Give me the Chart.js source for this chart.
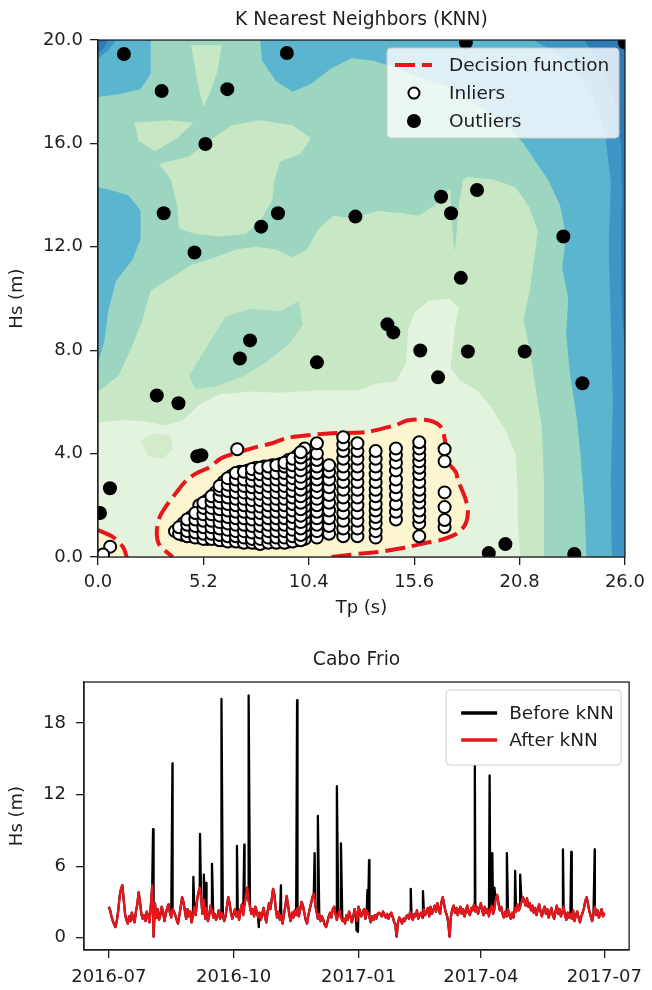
<!DOCTYPE html>
<html>
<head>
<meta charset="utf-8">
<title>KNN outlier detection - Cabo Frio</title>
<script src="https://cdn.jsdelivr.net/npm/chart.js@4/dist/chart.umd.min.js"></script>
<style>
  html, body { margin: 0; padding: 0; background: #ffffff; width: 652px; height: 990px; overflow: hidden; }
  canvas { position: absolute; left: 0; display: block; }
  #knn { top: 0; }
  #ts { top: 625px; }
</style>
</head>
<body>
<canvas id="knn" width="652" height="625"></canvas>
<canvas id="ts" width="652" height="365"></canvas>
<script>
// ================= DATA : top chart (Tp, Hs) =================
const tpTicks = [0, 5.2, 10.4, 15.6, 20.8, 26.0];
const hsTicks = [0, 4, 8, 12, 16, 20];
const knnLegendLabels = ['Decision function', 'Inliers', 'Outliers'];

const outlierTp = [1.28, 9.32, 18.15, 26.0, 3.14, 6.38, 5.3, 3.24, 4.76, 8.05, 8.88, 12.7, 16.93, 17.42, 18.7, 22.96, 17.9, 14.28, 14.57, 10.8, 7.5, 7.0, 15.9, 18.25, 21.05, 16.78, 23.9, 2.9, 3.97, 4.9, 5.1, 0.59, 0.1, 19.28, 20.1, 23.5];
const outlierHs = [19.46, 19.5, 19.9, 19.9, 18.03, 18.1, 15.98, 13.3, 11.78, 12.78, 13.3, 13.17, 13.94, 13.3, 14.2, 12.4, 10.8, 9.0, 8.69, 7.53, 8.38, 7.68, 7.99, 7.95, 7.95, 6.95, 6.72, 6.25, 5.95, 3.9, 3.94, 2.66, 1.7, 0.15, 0.5, 0.12];

// inliers grouped by peak-period column
const inlierTp = [3.8, 4.2, 4.6, 5.0, 5.4, 5.8, 6.2, 6.6, 7.0, 7.4, 7.8, 8.2, 8.6, 9.0, 9.4, 9.8, 10.2, 10.8, 11.4, 12.1, 12.8, 13.7, 14.7, 15.85, 17.1];
const inlierHs = [
  [1.0],
  [0.85, 1.1, 1.3],
  [0.8, 1.05, 1.3, 1.55],
  [0.75, 1.0, 1.25, 1.5, 1.75, 2.0],
  [0.7, 0.95, 1.2, 1.45, 1.7, 1.95, 2.2],
  [0.7, 0.95, 1.2, 1.45, 1.7, 1.95, 2.2, 2.5],
  [0.65, 0.9, 1.15, 1.4, 1.65, 1.9, 2.15, 2.4, 2.65, 2.9],
  [0.65, 0.9, 1.15, 1.4, 1.65, 1.9, 2.15, 2.4, 2.65, 2.9, 3.15],
  [0.6, 0.85, 1.1, 1.35, 1.6, 1.85, 2.1, 2.35, 2.6, 2.85, 3.1, 3.3],
  [0.6, 0.85, 1.1, 1.35, 1.6, 1.85, 2.1, 2.35, 2.6, 2.85, 3.1, 3.35],
  [0.55, 0.8, 1.05, 1.3, 1.55, 1.8, 2.05, 2.3, 2.55, 2.8, 3.05, 3.3, 3.45],
  [0.6, 0.85, 1.1, 1.35, 1.6, 1.85, 2.1, 2.35, 2.6, 2.85, 3.1, 3.35, 3.5],
  [0.6, 0.85, 1.1, 1.35, 1.6, 1.85, 2.1, 2.35, 2.6, 2.85, 3.1, 3.35, 3.55],
  [0.6, 0.85, 1.1, 1.35, 1.6, 1.85, 2.1, 2.35, 2.6, 2.85, 3.1, 3.35, 3.6],
  [0.6, 0.85, 1.1, 1.35, 1.6, 1.85, 2.1, 2.35, 2.6, 2.85, 3.1, 3.35, 3.6, 3.75],
  [0.65, 0.9, 1.15, 1.4, 1.65, 1.9, 2.15, 2.4, 2.65, 2.9, 3.15, 3.4, 3.65, 3.9],
  [0.7, 0.95, 1.2, 1.45, 1.7, 1.95, 2.2, 2.45, 2.7, 2.95, 3.2, 3.45, 3.7, 3.95, 4.2],
  [0.75, 1.0, 1.25, 1.5, 1.75, 2.0, 2.25, 2.5, 2.75, 3.0, 3.25, 3.5, 3.75, 4.0, 4.4],
  [0.9, 1.2, 1.5, 1.8, 2.1, 2.4, 2.7, 3.0, 3.3, 3.55],
  [0.8, 1.1, 1.4, 1.7, 2.0, 2.3, 2.6, 2.9, 3.2, 3.5, 3.8, 4.1, 4.35, 4.63],
  [0.8, 1.1, 1.4, 1.7, 2.0, 2.3, 2.6, 2.9, 3.2, 3.5, 3.8, 4.1, 4.4],
  [0.75, 1.0, 1.3, 1.55, 1.8, 2.05, 2.35, 2.6, 2.9, 3.2, 3.5, 3.8, 4.1],
  [1.45, 1.75, 2.05, 2.4, 2.7, 3.0, 3.35, 3.65, 3.95, 4.2],
  [0.8, 1.3, 1.55, 1.8, 2.1, 2.35, 2.6, 2.9, 3.2, 3.45, 3.7, 3.95, 4.2, 4.44],
  [1.16, 1.43, 1.93, 2.5, 3.7, 4.17]
];
// second, interleaved set of records in the dense short-period cluster
const inlierTpB = [4.0, 4.4, 4.8, 5.2, 5.6, 6.0, 6.4, 6.8, 7.2, 7.6, 8.0, 8.4, 8.8, 9.2, 9.6, 10.0];
const inlierHsB = [
  [0.9, 1.15],
  [0.8, 1.0, 1.25, 1.45],
  [0.75, 0.95, 1.2, 1.45, 1.7],
  [0.7, 0.9, 1.15, 1.4, 1.65, 1.9, 2.1],
  [0.7, 0.9, 1.15, 1.4, 1.65, 1.9, 2.15, 2.35],
  [0.65, 0.85, 1.1, 1.35, 1.6, 1.85, 2.1, 2.35, 2.6, 2.75],
  [0.6, 0.8, 1.05, 1.3, 1.55, 1.8, 2.05, 2.3, 2.55, 2.8, 3.05],
  [0.6, 0.8, 1.0, 1.25, 1.5, 1.75, 2.0, 2.25, 2.5, 2.75, 3.0, 3.25],
  [0.55, 0.75, 1.0, 1.25, 1.5, 1.75, 2.0, 2.25, 2.5, 2.75, 3.0, 3.3],
  [0.55, 0.7, 0.95, 1.2, 1.45, 1.7, 1.95, 2.2, 2.45, 2.7, 2.95, 3.2, 3.4],
  [0.5, 0.7, 0.95, 1.2, 1.45, 1.7, 1.95, 2.2, 2.45, 2.7, 2.95, 3.2, 3.45],
  [0.55, 0.75, 1.0, 1.25, 1.5, 1.75, 2.0, 2.25, 2.5, 2.75, 3.0, 3.25, 3.5],
  [0.55, 0.75, 1.0, 1.25, 1.5, 1.75, 2.0, 2.25, 2.5, 2.75, 3.0, 3.25, 3.55],
  [0.55, 0.75, 1.0, 1.25, 1.5, 1.75, 2.0, 2.25, 2.5, 2.75, 3.0, 3.25, 3.5, 3.65],
  [0.6, 0.8, 1.05, 1.3, 1.55, 1.8, 2.05, 2.3, 2.55, 2.8, 3.05, 3.3, 3.55, 3.8],
  [0.65, 0.85, 1.1, 1.35, 1.6, 1.85, 2.1, 2.35, 2.6, 2.85, 3.1, 3.35, 3.6, 3.85, 4.05]
];
const extraInlierTp = [0.6, 0.25, 6.87];
const extraInlierHs = [0.4, 0.1, 4.17];

// decision function (red dashed contour), Tp / Hs
const decisionTp = [11.53, 12.37, 13.2, 13.84, 14.47, 15.31, 16.14, 16.93, 17.76, 18.15, 18.25, 18.1, 17.76, 17.66, 17.27, 17.17, 16.93, 16.29, 15.31, 14.67, 13.2, 11.53, 9.91, 9.27, 8.59, 7.8, 6.82, 6.08, 5.5, 4.86, 4.37, 3.88, 3.39, 3.04, 2.9, 3.04, 3.68];
const decisionHs = [0, 0.08, 0.15, 0.19, 0.27, 0.39, 0.54, 0.66, 0.93, 1.31, 1.81, 2.32, 2.97, 3.28, 3.67, 4.25, 5.02, 5.29, 5.29, 5.1, 4.83, 4.79, 4.67, 4.59, 4.4, 4.25, 4.02, 3.82, 3.47, 3.24, 2.97, 2.51, 2.0, 1.54, 0.93, 0.46, 0];
const decisionCornerTp = [0, 0.74, 1.23, 1.42];
const decisionCornerHs = [1.04, 0.77, 0.39, 0];

// filled contour levels of the KNN score, [Tp, Hs] vertices
const contourL0 = [[0,0],[26,0],[26,20],[0,20]];
const contourL1 = [[0,0],[26,0],[26,8],[25.85,9.5],[25.8,12],[25.85,14],[25.8,16],[25.6,17.3],[25.2,18.3],[24.6,19.3],[24.0,20],[0.5,20],[0.3,19.7],[0,19.5]];
const contourL2 = [[0,0],[25.35,0],[25.3,3],[25.4,6],[25.3,9],[25.2,12],[25.3,14.5],[25.0,16.5],[24.5,17.6],[23.8,18.6],[22.8,19.4],[21.5,20],[0.9,20],[0.5,19.6],[0,19.3]];
const contourL3 = [[2.6,20],[8.0,20],[8.1,19.2],[8.8,18.4],[9.6,18.0],[10.5,18.3],[11.5,18.9],[12.5,19.3],[13.6,19.2],[14.8,18.9],[16.0,18.5],[17.2,18.2],[18.3,17.7],[19.3,17.2],[20.3,16.6],[21.0,16.0],[21.5,15.4],[22.2,14.6],[22.8,13.6],[23.1,12.4],[22.9,11.2],[23.2,10.0],[23.1,8.6],[23.3,7.0],[23.6,5.5],[23.8,4.0],[24.0,2.0],[24.1,0],[0,0],[0,7.5],[0.3,8.3],[0.5,9.5],[0.9,10.7],[1.7,11.5],[2.1,12.3],[2.1,13.4],[1.5,14.0],[0.6,14.2],[0,14.3],[0,17.8],[1.0,17.9],[2.1,18.1],[2.6,18.7]];
const contourL4 = [[0,0],[0,6.4],[1.0,7.0],[1.6,8.0],[2.2,9.2],[2.6,10.3],[3.6,10.8],[4.6,11.3],[5.8,11.6],[6.8,11.9],[7.8,12.0],[8.8,11.9],[9.6,11.6],[10.3,11.9],[10.9,12.7],[11.6,13.2],[12.6,13.1],[13.8,13.4],[15.0,13.3],[15.8,13.2],[16.6,13.6],[17.3,14.2],[18.2,14.7],[19.5,14.6],[20.6,14.3],[21.3,13.5],[21.7,12.6],[21.5,11.4],[21.3,10.3],[21.0,9.2],[21.3,8.0],[21.6,6.5],[21.9,5.0],[22.0,3.0],[22.0,0]];
const patchL4a = [[3.0,15.2],[4.5,15.5],[5.5,16.1],[6.6,16.7],[8.0,16.9],[9.6,16.7],[10.5,16.2],[10.0,15.6],[9.0,15.3],[8.7,14.6],[8.6,13.8],[8.0,13.0],[7.3,12.5],[6.0,12.4],[4.8,12.5],[4.0,12.7],[3.9,13.6],[3.6,14.6]];
const patchL4b = [[4.6,19.8],[6.1,19.8],[5.9,18.8],[5.5,17.9],[5.2,17.4],[4.9,18.4]];
const patchL4c = [[1.8,16.8],[3.5,16.9],[4.7,16.8],[3.9,16.2],[2.8,15.7],[2.0,16.1]];
const patchL3a = [[4.5,7.0],[5.5,8.3],[6.3,9.3],[7.5,9.6],[9.0,9.5],[9.9,9.9],[10.1,9.0],[9.5,8.3],[8.4,7.6],[7.2,7.0],[5.8,6.6],[4.8,6.5]];
const patchL3b = [[17.4,14.45],[18.0,14.55],[17.8,13.6],[17.7,12.6],[17.6,11.8],[17.5,12.6],[17.4,13.6]];
const contourL5 = [[0,0],[0,5.2],[1.2,5.3],[2.3,5.25],[3.3,5.1],[4.2,5.3],[5.0,5.9],[6.0,6.3],[7.5,6.4],[9.0,6.35],[10.0,6.4],[10.9,6.45],[12.9,6.45],[13.7,6.7],[14.7,6.8],[15.2,7.5],[15.3,8.8],[15.65,9.5],[16.3,9.9],[17.3,10.0],[17.8,9.65],[17.6,8.8],[17.4,7.3],[17.9,6.8],[18.7,6.45],[19.4,5.8],[20.1,4.9],[20.6,4.0],[20.7,2.7],[20.7,1.4],[20.85,0]];
const patchL4d = [[2.1,4.5],[2.8,4.8],[3.6,4.7],[3.7,4.2],[3.2,3.8],[2.5,3.9]];

// ================= DATA : bottom chart (time series) =================
// days since 2016-07-01
const dateTickDays = [0, 92, 184, 274, 365];
const dateTickLabels = ['2016-07', '2016-10', '2017-01', '2017-04', '2017-07'];
const hsTimeTicks = [0, 6, 12, 18];
const seriesLabels = ['Before kNN', 'After kNN'];

// daily Hs after kNN filtering (day 0 .. 365)
const hsAfter = [
  2.6, 2.3, 1.8, 1.4, 1.1, 0.9, 1.5, 2.3, 3.5, 4.1,
  4.4, 3.2, 2.0, 1.5, 1.2, 1.8, 1.4, 2.1, 1.6, 1.3,
  2.2, 2.8, 3.8, 3.0, 2.0, 1.6, 1.9, 1.4, 2.2, 1.8,
  1.3, 2.7, 4.4, 0.1, 2.9, 1.7, 2.4, 1.5, 1.9, 2.6,
  2.2, 1.4, 2.0, 2.5, 2.8, 2.1, 1.7, 2.4, 2.2, 1.9,
  1.5, 1.2, 1.9, 2.6, 3.4, 3.0, 2.3, 1.6, 2.4, 1.8,
  2.2, 1.3, 1.9, 2.6, 1.9, 3.1, 3.8, 4.2, 3.3, 2.0,
  3.2, 1.6, 2.5, 1.4, 1.9, 2.7, 2.2, 1.7, 2.0, 1.5,
  1.8, 2.3, 1.6, 2.1, 1.9, 1.4, 1.8, 2.6, 3.4, 2.9,
  2.1, 1.6, 2.0, 2.4, 1.8, 2.2, 1.5, 2.3, 2.8, 1.9,
  2.7, 3.6, 4.2, 3.1, 2.6, 2.0, 2.4, 1.8, 2.6, 2.2,
  1.7, 2.1, 1.5, 2.0, 2.5, 1.8, 1.3, 2.2, 2.9, 2.4,
  3.2, 4.1, 3.6, 2.4, 1.7, 2.2, 1.5, 1.9, 1.2, 2.0,
  2.6, 3.5, 2.8, 1.9, 1.4, 2.1, 1.7, 2.3, 1.9, 2.5,
  1.8, 2.4, 3.0, 2.7, 2.1, 1.5, 1.2, 1.9, 2.4, 2.9,
  3.4, 3.7, 2.8, 2.2, 1.6, 2.0, 1.4, 1.8, 1.5, 1.1,
  0.9, 1.3, 1.8, 2.1, 1.7, 2.4, 2.6, 2.0, 1.5, 1.9,
  2.3, 1.7, 1.4, 1.6, 1.2, 1.9, 1.5, 2.2, 1.8, 1.3,
  1.7, 2.4, 2.0, 1.4, 2.6, 2.2, 1.8, 2.1, 2.4, 1.6,
  2.3, 2.0, 1.7, 1.3, 1.8, 1.5, 1.9, 1.6, 2.0, 2.1,
  2.0, 1.8, 2.2, 1.9, 1.7, 2.0, 1.6, 1.9, 2.1, 1.8,
  1.4, 1.1, 0.1, 1.3, 1.7, 1.5, 1.2, 1.6, 1.4, 1.8,
  1.9, 1.6, 2.2, 1.7, 1.5, 2.0, 1.8, 2.3, 1.6, 1.9,
  2.1, 1.7, 2.4, 1.9, 2.2, 2.5, 1.8, 2.6, 2.0, 2.3,
  2.7, 2.2, 2.9, 2.4, 2.0, 3.0, 3.4, 2.8, 2.2, 1.9,
  1.3, 0.1, 1.8, 2.4, 2.7, 2.1, 2.5, 1.9, 2.3, 2.6,
  2.0, 2.4, 1.8, 2.2, 2.7, 2.1, 1.9, 2.5, 2.3, 2.8,
  2.2, 2.6, 2.0, 2.5, 2.9, 2.3, 1.9, 2.6, 2.1, 2.4,
  1.8, 2.3, 2.7, 2.0, 2.4, 3.2, 3.6, 2.9, 2.3, 2.6,
  2.0, 1.7, 2.2, 1.8, 2.4, 1.9, 1.6, 2.1, 1.7, 2.5,
  2.2, 2.8, 2.3, 2.6, 3.0, 3.4, 3.1, 2.7, 3.3, 2.6,
  2.9, 2.3, 2.7, 2.1, 2.5, 1.9, 2.4, 2.8, 2.2, 1.8,
  2.3, 2.6, 2.0, 2.4, 1.7, 2.1, 2.5, 1.9, 1.6, 2.2,
  2.7, 2.0, 2.4, 1.8, 2.2, 2.6, 1.9, 1.5, 2.1, 1.7,
  2.0, 1.6, 2.3, 1.4, 1.9, 2.2, 1.7, 1.3, 1.8, 2.1,
  2.5, 3.1, 3.4, 2.8, 2.2, 1.8, 1.4, 2.0, 2.6, 1.9,
  2.3, 1.7, 2.0, 2.4, 1.8, 2.1
];
// records removed by kNN (day, Hs)
const spikeDay = [32.6, 46.9, 62.3, 67.2, 70.0, 71.8, 76.0, 83.0, 94.4, 99.8, 103.0, 110.5, 126.8, 138.7, 151.6, 154.0, 168.0, 171.0, 182.5, 183.5, 190.5, 191.7, 222.4, 231.4, 269.6, 280.5, 282.5, 284.0, 293.2, 299.3, 303.0, 334.5, 340.6, 357.9];
const spikeHs = [9.1, 14.6, 5.1, 8.7, 5.3, 4.6, 6.2, 20.0, 7.7, 7.8, 20.3, 0.9, 4.4, 19.9, 7.1, 10.2, 12.7, 7.9, 0.6, 0.5, 4.0, 6.5, 4.1, 3.9, 14.4, 13.6, 7.1, 4.2, 7.1, 5.6, 5.3, 7.4, 7.2, 7.4];

// ================= STYLE / BUILD =================
Chart.defaults.font.family = "'DejaVu Sans', 'Liberation Sans', sans-serif";
Chart.defaults.color = '#1e1e1e';
const TXT = '#1e1e1e';
const RED = '#e8151b';
const FONT_TICK = 18;
const FONT_TITLE = 18.7;

const pairs = arr => arr.map(p => ({ x: p[0], y: p[1] }));
const zipPts = (xs, ys) => xs.map((x, i) => ({ x: x, y: ys[i] }));

function areaDs(arr, color, order) {
  return { label: '', data: pairs(arr), showLine: true, fill: 'shape', backgroundColor: color,
           borderColor: 'rgba(0,0,0,0)', borderWidth: 0, pointRadius: 0, tension: 0, order: order, clip: 0 };
}

const inlierPoints = [];
inlierTp.forEach((tp, i) => inlierHs[i].forEach(hs => inlierPoints.push({ x: tp, y: hs })));
inlierTpB.forEach((tp, i) => inlierHsB[i].forEach(hs => inlierPoints.push({ x: tp, y: hs })));
extraInlierTp.forEach((tp, i) => inlierPoints.push({ x: tp, y: extraInlierHs[i] }));

const decisionPts = zipPts(decisionTp, decisionHs);
const cornerPts = zipPts(decisionCornerTp, decisionCornerHs);

function roundRectPath(ctx, x, y, w, h, r) {
  ctx.beginPath();
  ctx.moveTo(x + r, y);
  ctx.lineTo(x + w - r, y); ctx.quadraticCurveTo(x + w, y, x + w, y + r);
  ctx.lineTo(x + w, y + h - r); ctx.quadraticCurveTo(x + w, y + h, x + w - r, y + h);
  ctx.lineTo(x + r, y + h); ctx.quadraticCurveTo(x, y + h, x, y + h - r);
  ctx.lineTo(x, y + r); ctx.quadraticCurveTo(x, y, x + r, y);
  ctx.closePath();
}

const framePlugin = {
  id: 'frame',
  afterDatasetsDraw(chart) {
    const { ctx, chartArea: ca } = chart;
    ctx.save();
    ctx.strokeStyle = TXT; ctx.lineWidth = 1.3;
    ctx.strokeRect(ca.left, ca.top, ca.right - ca.left, ca.bottom - ca.top);
    ctx.restore();
  }
};

const knnLegend = {
  id: 'knnLegend',
  afterDraw(chart) {
    const { ctx, chartArea: ca } = chart;
    const w = 232, h = 90;
    const bx = ca.right - 6 - w, by = ca.top + 8;
    ctx.save();
    roundRectPath(ctx, bx, by, w, h, 4);
    ctx.fillStyle = 'rgba(255,255,255,0.8)'; ctx.fill();
    ctx.lineWidth = 1; ctx.strokeStyle = '#cccccc'; ctx.stroke();
    const rows = [by + 17, by + 45, by + 73];
    ctx.strokeStyle = RED; ctx.lineWidth = 4; ctx.setLineDash([20, 7]);
    ctx.beginPath(); ctx.moveTo(bx + 8, rows[0]); ctx.lineTo(bx + 45, rows[0]); ctx.stroke();
    ctx.setLineDash([]);
    ctx.beginPath(); ctx.arc(bx + 27, rows[1], 5.5, 0, Math.PI * 2);
    ctx.fillStyle = '#ffffff'; ctx.fill(); ctx.lineWidth = 2; ctx.strokeStyle = '#000'; ctx.stroke();
    ctx.beginPath(); ctx.arc(bx + 27, rows[2], 7, 0, Math.PI * 2);
    ctx.fillStyle = '#000'; ctx.fill();
    ctx.font = "18.5px 'DejaVu Sans'"; ctx.fillStyle = TXT;
    ctx.textBaseline = 'middle'; ctx.textAlign = 'left';
    knnLegendLabels.forEach((t, i) => ctx.fillText(t, bx + 62, rows[i] + 1));
    ctx.restore();
  }
};

const tsLegend = {
  id: 'tsLegend',
  afterDraw(chart) {
    const { ctx, chartArea: ca } = chart;
    const w = 175, h = 75;
    const bx = ca.right - 8 - w, by = ca.top + 8;
    ctx.save();
    roundRectPath(ctx, bx, by, w, h, 4);
    ctx.fillStyle = 'rgba(255,255,255,0.8)'; ctx.fill();
    ctx.lineWidth = 1; ctx.strokeStyle = '#cccccc'; ctx.stroke();
    const rows = [by + 23, by + 50];
    const cols = ['#000000', RED];
    rows.forEach((y, i) => {
      ctx.strokeStyle = cols[i]; ctx.lineWidth = 3.5;
      ctx.beginPath(); ctx.moveTo(bx + 15, y); ctx.lineTo(bx + 51, y); ctx.stroke();
    });
    ctx.font = "18.5px 'DejaVu Sans'"; ctx.fillStyle = TXT;
    ctx.textBaseline = 'middle'; ctx.textAlign = 'left';
    seriesLabels.forEach((t, i) => ctx.fillText(t, bx + 63, rows[i] + 1));
    ctx.restore();
  }
};

const axisGrid = { display: true, drawOnChartArea: false, drawTicks: true, tickLength: 8, color: TXT, lineWidth: 1.3 };
const axisBorder = { display: true, color: TXT, width: 1.3 };

// ---------------- top chart ----------------
new Chart(document.getElementById('knn'), {
  type: 'line',
  data: {
    datasets: [
      areaDs(contourL0, '#2c7bb6', 120),
      areaDs(contourL1, '#3d96c6', 119),
      areaDs(contourL2, '#5bb5cf', 118),
      areaDs(contourL3, '#9cd6c1', 117),
      areaDs(contourL4, '#c8e7c4', 116),
      areaDs(patchL4a, '#c8e7c4', 116),
      areaDs(patchL4b, '#c8e7c4', 116),
      areaDs(patchL4c, '#c8e7c4', 116),
      areaDs(patchL3a, '#a6dac2', 115),
      areaDs(patchL3b, '#9cd6c1', 115),
      areaDs(contourL5, '#e3f3dd', 114),
      areaDs(patchL4d, '#d2ecca', 113),
      { label: '', data: decisionPts, showLine: true, fill: 'shape', backgroundColor: '#fbf6d0',
        borderWidth: 0, borderColor: 'rgba(0,0,0,0)', pointRadius: 0, tension: 0.3, order: 112, clip: 0 },
      { label: '', data: cornerPts.concat([{ x: 0, y: 0 }]), showLine: true, fill: 'shape', backgroundColor: '#fbf6d0',
        borderWidth: 0, borderColor: 'rgba(0,0,0,0)', pointRadius: 0, tension: 0, order: 112, clip: 0 },
      { label: knnLegendLabels[0], data: decisionPts, showLine: true, fill: false, borderColor: RED, borderWidth: 4,
        borderDash: [20, 7], pointRadius: 0, tension: 0.3, order: 5, clip: 0 },
      { label: '', data: cornerPts, showLine: true, fill: false, borderColor: RED, borderWidth: 4,
        borderDash: [20, 7], pointRadius: 0, tension: 0.3, order: 5, clip: 0 },
      { label: knnLegendLabels[1], data: inlierPoints, showLine: false, pointRadius: 6,
        pointBackgroundColor: '#ffffff', pointBorderColor: '#000000', pointBorderWidth: 2, order: 2, clip: 0 },
      { label: knnLegendLabels[2], data: zipPts(outlierTp, outlierHs), showLine: false, pointRadius: 7,
        pointBackgroundColor: '#000000', pointBorderColor: '#000000', pointBorderWidth: 0, order: 1, clip: 0 }
    ]
  },
  options: {
    responsive: false, animation: false, events: [],
    layout: { padding: { left: 0, right: 24, top: 0, bottom: 0 } },
    plugins: {
      legend: { display: false }, tooltip: { enabled: false },
      title: { display: true, fullSize: false, text: 'K Nearest Neighbors (KNN)', color: TXT,
               font: { size: FONT_TITLE, weight: 'normal' }, padding: { top: 9, bottom: 8.6 } }
    },
    scales: {
      x: {
        type: 'linear', min: 0, max: 26, z: 1,
        afterBuildTicks: s => { s.ticks = tpTicks.map(v => ({ value: v })); },
        afterFit: s => { s.height = 68; },
        ticks: { callback: v => Number(v).toFixed(1), font: { size: FONT_TICK }, color: TXT, padding: 7, maxRotation: 0, autoSkip: false },
        grid: axisGrid, border: axisBorder,
        title: { display: true, text: 'Tp (s)', color: TXT, font: { size: FONT_TICK }, padding: { top: 0, bottom: 6 } }
      },
      y: {
        type: 'linear', min: 0, max: 20, z: 1,
        afterBuildTicks: s => { s.ticks = hsTicks.map(v => ({ value: v })); },
        afterFit: s => { s.width = 98; },
        ticks: { callback: v => Number(v).toFixed(1), font: { size: FONT_TICK }, color: TXT, padding: 7, autoSkip: false },
        grid: axisGrid, border: axisBorder,
        title: { display: true, text: 'Hs (m)', color: TXT, font: { size: FONT_TICK }, padding: { top: 7, bottom: 0 } }
      }
    }
  },
  plugins: [framePlugin, knnLegend]
});

// ---------------- bottom chart ----------------
const afterPts = hsAfter.map((v, d) => ({ x: d, y: v }));
const beforePts = afterPts.concat(spikeDay.map((d, i) => ({ x: d, y: spikeHs[i] }))).sort((a, b) => a.x - b.x);

new Chart(document.getElementById('ts'), {
  type: 'line',
  data: {
    datasets: [
      { label: seriesLabels[0], data: beforePts, borderColor: '#000000', borderWidth: 2.3, pointRadius: 0,
        fill: false, tension: 0, borderJoinStyle: 'round', order: 2, clip: 0 },
      { label: seriesLabels[1], data: afterPts, borderColor: RED, borderWidth: 2.3, pointRadius: 0,
        fill: false, tension: 0, borderJoinStyle: 'round', order: 1, clip: 0 }
    ]
  },
  options: {
    responsive: false, animation: false, events: [],
    layout: { padding: { left: 0, right: 17, top: 0, bottom: 0 } },
    plugins: {
      legend: { display: false }, tooltip: { enabled: false },
      title: { display: true, fullSize: false, text: 'Cabo Frio', color: TXT,
               font: { size: FONT_TITLE, weight: 'normal' }, padding: { top: 23.8, bottom: 10.8 } }
    },
    scales: {
      x: {
        type: 'linear', min: -18.25, max: 383.25, z: 1,
        afterBuildTicks: s => { s.ticks = dateTickDays.map(v => ({ value: v })); },
        afterFit: s => { s.height = 40; },
        ticks: { callback: v => { const i = dateTickDays.indexOf(v); return i >= 0 ? dateTickLabels[i] : ''; },
                 font: { size: FONT_TICK }, color: TXT, padding: 9, maxRotation: 0, autoSkip: false },
        grid: axisGrid, border: axisBorder
      },
      y: {
        type: 'linear', min: -1.02, max: 21.42, z: 1,
        afterBuildTicks: s => { s.ticks = hsTimeTicks.map(v => ({ value: v })); },
        afterFit: s => { s.width = 84; },
        ticks: { callback: v => String(v), font: { size: FONT_TICK }, color: TXT, padding: 10, autoSkip: false },
        grid: axisGrid, border: axisBorder,
        title: { display: true, text: 'Hs (m)', color: TXT, font: { size: FONT_TICK }, padding: { top: 7, bottom: 0 } }
      }
    }
  },
  plugins: [framePlugin, tsLegend]
});
</script>
</body>
</html>
